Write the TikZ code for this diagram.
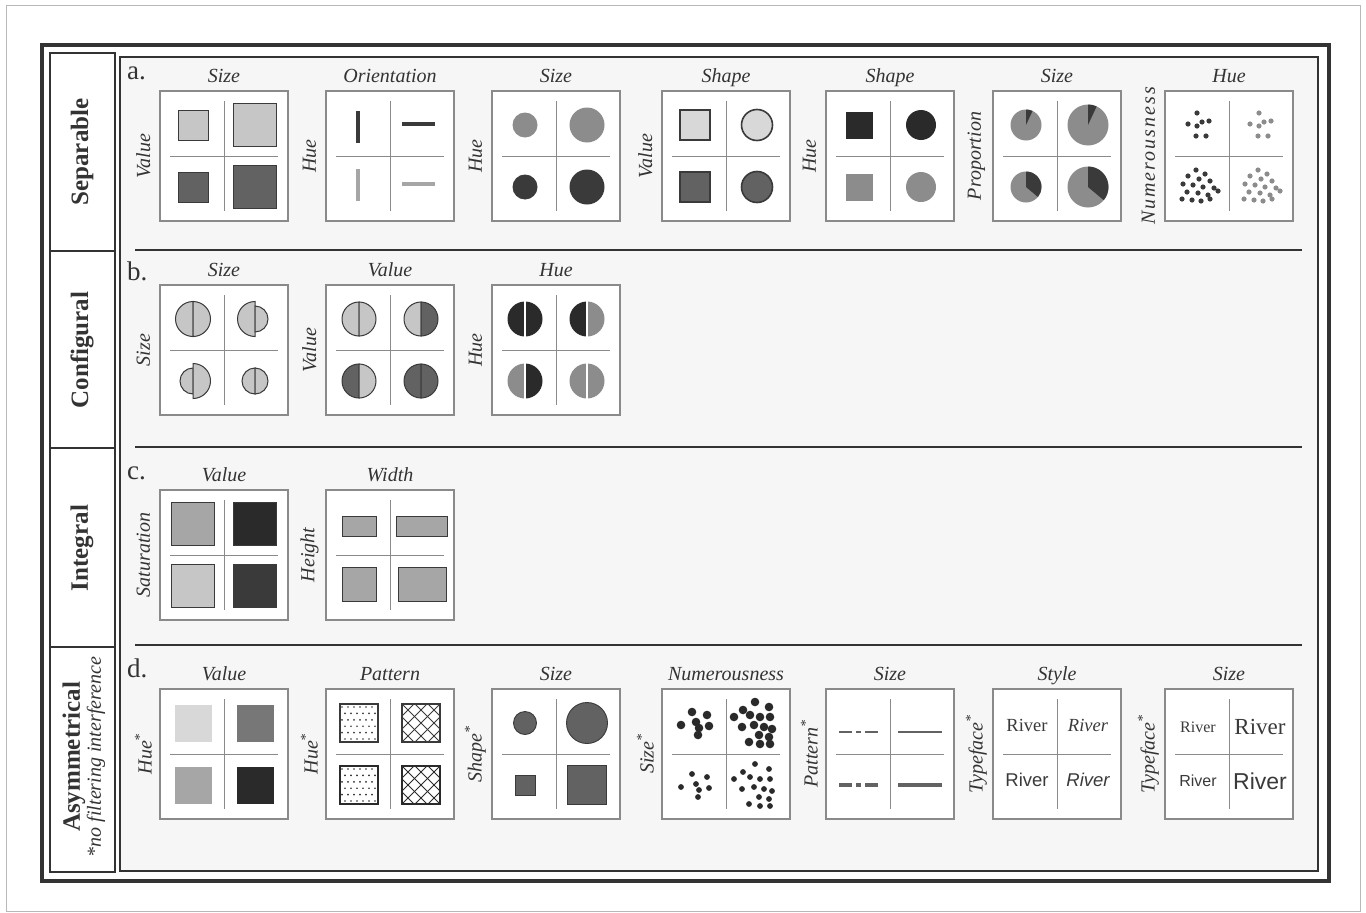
\documentclass[tikz,border=0pt]{standalone}
\usepackage{fontspec}
\setmainfont{Liberation Serif}
\newfontfamily\riverSans{Liberation Sans}
\usepackage{xcolor}
\usepackage{tikz}
\usetikzlibrary{positioning}
\definecolor{pageGray}{HTML}{B8B8B8}
\definecolor{frameGray}{HTML}{8A8A8A}
\definecolor{ruleDark}{HTML}{333333}
\definecolor{panelBg}{HTML}{F6F6F6}
\definecolor{grayPale}{HTML}{D8D8D8}
\definecolor{grayLight}{HTML}{C6C6C6}
\definecolor{graySoft}{HTML}{A6A6A6}
\definecolor{grayMid}{HTML}{8C8C8C}
\definecolor{grayDim}{HTML}{626262}
\definecolor{grayDeep}{HTML}{3A3A3A}
\definecolor{grayInk}{HTML}{2A2A2A}

\tikzset{
  glyphbox/.style={draw=frameGray,fill=white,line width=1.1pt,inner sep=0pt,
    minimum width=128pt,minimum height=130pt,
    path picture={
      \draw[frameGray,line width=0.9pt]
        ([yshift=-10pt]path picture bounding box.north) -- ([yshift=10pt]path picture bounding box.south)
        ([xshift=10pt]path picture bounding box.west) -- ([xshift=-10pt]path picture bounding box.east);
    }},
  ttl/.style={font=\fontsize{20}{22}\selectfont\itshape,text=ruleDark,anchor=base,inner sep=0pt},
  sidelab/.style={font=\fontsize{20}{22}\selectfont\itshape,text=ruleDark,rotate=90,anchor=center,inner sep=0pt},
  rowlab/.style={font=\fontsize{25}{28}\selectfont\bfseries,text=ruleDark,rotate=90,inner sep=0pt},
  panlab/.style={font=\fontsize{27}{30}\selectfont,text=ruleDark,anchor=base west,inner sep=0pt},
  river/.style={text=grayDeep,inner sep=0pt},
  divider/.style={draw=ruleDark,line width=1.6pt},
}

\begin{document}
\begin{tikzpicture}[x=1pt,y=-1pt]
  \useasboundingbox (0,0) rectangle (1366,913);
  % frames
  \draw[pageGray,line width=1pt] (6,5) rectangle (1360,911);
  \fill[panelBg] (120,57) rectangle (1318,871);
  \draw[ruleDark,line width=3.4pt] (42,45) rectangle (1329,881);
  \draw[ruleDark,line width=1.3pt] (50,53) rectangle (115,872);
  \draw[ruleDark,line width=1.3pt] (120,57) rectangle (1318,871);
  \foreach \y in {251,448,647}
    \draw[ruleDark,line width=1.3pt] (50,\y) -- (115,\y);
  \foreach \y in {250,447,645}
    \draw[divider] (135,\y) -- (1302,\y);

  % left column
  \node[rowlab] (rowSep) at (82,152) {Separable};
  \node[rowlab] (rowConf) at (82,350) {Configural};
  \node[rowlab] (rowInt) at (82,548) {Integral};
  \node[rowlab] (rowAsym) at (74,757) {Asymmetrical};
  \node[rotate=90,inner sep=0pt,text=ruleDark,font=\fontsize{20}{22}\selectfont\itshape] (rowAsymSub) at (96,757) {*no filtering interference};

  \node[panlab] (pa) at (127,79) {a.};
  \node[panlab] (pb) at (127,280) {b.};
  \node[panlab] (pc) at (127,479) {c.};
  \node[panlab] (pd) at (127,677) {d.};

  % row a: separable
  \foreach \n/\x/\hd/\sd in {1/224/Size/Value,2/390/Orientation/Hue,3/556/Size/Hue,
      4/726/Shape/Value,5/890/Shape/Hue,6/1057/Size/Proportion,
      7/1229/Hue/{\addfontfeature{LetterSpace=10}Numerousness}}{
    \node[glyphbox] (bxa\n) at (\x,156) {};
    \node[above=8pt of bxa\n,ttl] (hda\n) {\hd};
    \node[left=16pt of bxa\n,sidelab] (sda\n) {\sd};
  }
  % a1: size / value
  \begin{scope}[shift={(bxa1.center)}]
    \foreach \x/\y/\s/\col in {-31/-31/15/grayLight,31/-31/21.5/grayLight,-31/31/15/grayDim,31/31/21.5/grayDim}
      \filldraw[fill=\col,draw=grayDeep,line width=0.8pt] (\x-\s,\y-\s) rectangle (\x+\s,\y+\s);
  \end{scope}
  % a2: orientation / hue
  \begin{scope}[shift={(bxa2.center)},line width=3.4pt]
    \draw[grayDeep] (-32,-45) -- (-32,-13);
    \draw[grayDeep] (12,-32) -- (45,-32);
    \draw[graySoft] (-32,13) -- (-32,45);
    \draw[graySoft] (12,28) -- (45,28);
  \end{scope}
  % a3: size / hue
  \begin{scope}[shift={(bxa3.center)}]
    \foreach \x/\y/\s/\col in {-31/-31/12.5/grayMid,31/-31/17.5/grayMid,-31/31/12.5/grayDeep,31/31/17.5/grayDeep}
      \fill[\col] (\x,\y) circle[radius=\s];
  \end{scope}
  % a4: shape / value
  \begin{scope}[shift={(bxa4.center)},line width=1.6pt]
    \foreach \y/\col in {-31/grayPale,31/grayDim}{
      \filldraw[fill=\col,draw=grayDeep] (-46,\y-15) rectangle (-16,\y+15);
      \filldraw[fill=\col,draw=grayDeep] (31,\y) circle[radius=15.5];
    }
  \end{scope}
  % a5: shape / hue
  \begin{scope}[shift={(bxa5.center)}]
    \foreach \y/\col in {-31/grayInk,31/grayMid}{
      \fill[\col] (-44.5,\y-13.5) rectangle (-17.5,\y+13.5);
      \fill[\col] (31,\y) circle[radius=15];
    }
  \end{scope}
  % a6: size / proportion
  \begin{scope}[shift={(bxa6.center)}]
    \foreach \x/\y/\s/\w in {-31/-31/15.5/25,31/-31/20.5/25,-31/31/15.5/130,31/31/20.5/130}{
      \fill[grayMid] (\x,\y) circle[radius=\s];
      \fill[grayDeep] (\x,\y) -- ++(-90:\s) arc[start angle=-90,end angle=-90+\w,radius=\s] -- cycle;
    }
  \end{scope}
  % a7: hue / numerousness
  \begin{scope}[shift={(bxa7.center)}]
    \foreach \dx/\col in {-31/grayDeep,31/grayMid}{
      \foreach \x/\y in {-1/-12,-10/-1,-1/1,4/-3,11/-4,-2/11,8/11}
        \fill[\col] (\dx+\x,-31+\y) circle[radius=2.6];
      \foreach \x/\y in {-2/-17,7/-13,-10/-11,1/-8,12/-6,-15/-3,-5/-2,5/0,16/1,
          -11/5,0/6,10/8,-16/12,-6/13,3/14,12/12,20/4}
        \fill[\col] (\dx+\x,31+\y) circle[radius=2.6];
    }
  \end{scope}

  % row b: configural
  \foreach \n/\x/\hd/\sd in {1/224/Size/Size,2/390/Value/Value,3/556/Hue/Hue}{
    \node[glyphbox] (bxb\n) at (\x,350) {};
    \node[above=8pt of bxb\n,ttl] (hdb\n) {\hd};
    \node[left=16pt of bxb\n,sidelab] (sdb\n) {\sd};
  }
  % b1: size / size
  \begin{scope}[shift={(bxb1.center)},line width=1pt]
    \foreach \x/\y/\rl/\rr in {-31/-31/17.5/17.5,31/-31/17.5/13,-31/31/13/17.5,31/31/13/13}{
      \filldraw[fill=grayLight,draw=grayDeep] (\x,\y-\rl) arc[start angle=-90,end angle=-270,radius=\rl] -- cycle;
      \filldraw[fill=grayLight,draw=grayDeep] (\x,\y-\rr) arc[start angle=-90,end angle=90,radius=\rr] -- cycle;
    }
  \end{scope}
  % b2: value / value
  \begin{scope}[shift={(bxb2.center)},line width=1pt]
    \foreach \x/\y/\cl/\cr in {-31/-31/grayLight/grayLight,31/-31/grayLight/grayDim,
        -31/31/grayDim/grayLight,31/31/grayDim/grayDim}{
      \filldraw[fill=\cl,draw=grayDeep] (\x,\y-17) arc[start angle=-90,end angle=-270,radius=17] -- cycle;
      \filldraw[fill=\cr,draw=grayDeep] (\x,\y-17) arc[start angle=-90,end angle=90,radius=17] -- cycle;
    }
  \end{scope}
  % b3: hue / hue
  \begin{scope}[shift={(bxb3.center)}]
    \foreach \x/\y/\cl/\cr in {-31/-31/grayInk/grayInk,31/-31/grayInk/grayMid,
        -31/31/grayMid/grayInk,31/31/grayMid/grayMid}{
      \fill[\cl] (\x,\y-17.5) arc[start angle=-90,end angle=-270,radius=17.5] -- cycle;
      \fill[\cr] (\x,\y-17.5) arc[start angle=-90,end angle=90,radius=17.5] -- cycle;
      \draw[white,line width=2pt] (\x,\y-18) -- (\x,\y+18);
    }
  \end{scope}

  % row c: integral
  \foreach \n/\x/\hd/\sd in {1/224/Value/Saturation,2/390/Width/Height}{
    \node[glyphbox] (bxc\n) at (\x,555) {};
    \node[above=8pt of bxc\n,ttl] (hdc\n) {\hd};
    \node[left=16pt of bxc\n,sidelab] (sdc\n) {\sd};
  }
  % c1: value / saturation
  \begin{scope}[shift={(bxc1.center)}]
    \foreach \x/\y/\col in {-31/-31/graySoft,31/-31/grayInk,-31/31/grayLight,31/31/grayDeep}
      \filldraw[fill=\col,draw=grayDeep,line width=0.9pt] (\x-21.5,\y-21.5) rectangle (\x+21.5,\y+21.5);
  \end{scope}
  % c2: width / height
  \begin{scope}[shift={(bxc2.center)}]
    \foreach \x/\y/\w/\h in {-31/-29/17/10,32/-29/25.5/10,-31/29/17/17,32/29/24/17}
      \filldraw[fill=graySoft,draw=grayDeep,line width=0.9pt] (\x-\w,\y-\h) rectangle (\x+\w,\y+\h);
  \end{scope}

  % row d: asymmetrical
  \foreach \n/\x/\hd/\sd in {1/224/Value/Hue,2/390/Pattern/Hue,3/556/Size/Shape,
      4/726/Numerousness/Size,5/890/Size/Pattern,6/1057/Style/Typeface,7/1229/Size/Typeface}{
    \node[glyphbox] (bxd\n) at (\x,754) {};
    \node[above=8pt of bxd\n,ttl] (hdd\n) {\hd};
    \node[left=16pt of bxd\n,sidelab] (sdd\n) {\sd\textsuperscript{*}};
  }
  % d1: value / hue
  \begin{scope}[shift={(bxd1.center)}]
    \foreach \x/\y/\col in {-31/-31/grayPale,31/-31/grayMid!85!black,-31/31/graySoft,31/31/grayInk}
      \fill[\col] (\x-18.5,\y-18.5) rectangle (\x+18.5,\y+18.5);
  \end{scope}
  % d2: pattern / hue
  \begin{scope}[shift={(bxd2.center)}]
    \foreach \y/\col in {-31/grayDeep,31/grayInk}{
      \begin{scope}
        \clip (-50,\y-19) rectangle (-12,\y+19);
        \foreach \rw in {0,...,5}
          \foreach \kk in {0,...,6}
            \fill[\col] ({-48+\kk*6+mod(\rw,2)*3},{\y-16+\rw*6.4}) circle[radius=0.95];
      \end{scope}
      \begin{scope}
        \clip (12,\y-19) rectangle (50,\y+19);
        \foreach \kk in {-3,...,3}
          \draw[\col,line width=1pt] (31+\kk*13-25,\y-25) -- (31+\kk*13+25,\y+25)
                                     (31+\kk*13+25,\y-25) -- (31+\kk*13-25,\y+25);
      \end{scope}
      \draw[\col,line width=1.8pt] (-50,\y-19) rectangle (-12,\y+19) (12,\y-19) rectangle (50,\y+19);
    }
  \end{scope}
  % d3: size / shape
  \begin{scope}[shift={(bxd3.center)},line width=0.9pt]
    \filldraw[fill=grayDim,draw=grayDeep] (-31,-31) circle[radius=11.5];
    \filldraw[fill=grayDim,draw=grayDeep] (31,-31) circle[radius=20.5];
    \filldraw[fill=grayDim,draw=grayDeep] (-41,21) rectangle (-21,41);
    \filldraw[fill=grayDim,draw=grayDeep] (11.5,11.5) rectangle (50.5,50.5);
  \end{scope}
  % d4: numerousness / size
  \begin{scope}[shift={(bxd4.center)}]
    \foreach \y/\s in {-31/4.3,31/2.9}{
      \foreach \x/\yy in {-12/2,-1/-11,3/-1,14/-8,6/5,16/3,5/12}
        \fill[grayInk] (-33+\x,\y+\yy) circle[radius=\s];
      \foreach \x/\yy in {2/-21,16/-16,-10/-13,-19/-6,-3/-8,7/-6,17/-6,-11/4,
          1/2,11/4,19/6,6/12,16/14,-4/19,7/21,17/21}
        \fill[grayInk] (27+\x,\y+\yy) circle[radius=\s];
    }
  \end{scope}
  % d5: size / pattern
  \begin{scope}[shift={(bxd5.center)},grayDim]
    \draw[line width=1.8pt,dash pattern=on 13pt off 4pt on 5pt off 4pt] (-51,-22) -- (-12,-22);
    \draw[line width=1.8pt] (8,-22) -- (52,-22);
    \draw[line width=4.2pt,dash pattern=on 13pt off 4pt on 5pt off 4pt] (-51,31) -- (-12,31);
    \draw[line width=4.2pt] (8,31) -- (52,31);
  \end{scope}
  % d6: style / typeface
  \begin{scope}[shift={(bxd6.center)},font=\fontsize{18.5}{20}\selectfont]
    \node[river] (rvs1) at (-30,-29) {River};
    \node[river] (rvs2) at (31,-29) {\itshape River};
    \node[river] (rvs3) at (-30,26) {\riverSans River};
    \node[river] (rvs4) at (31,26) {\riverSans\itshape River};
  \end{scope}
  % d7: size / typeface
  \begin{scope}[shift={(bxd7.center)}]
    \node[river,font=\fontsize{16}{18}\selectfont] (rvz1) at (-31,-27) {River};
    \node[river,font=\fontsize{23}{25}\selectfont] (rvz2) at (31,-27) {River};
    \node[river,font=\fontsize{16}{18}\selectfont\riverSans] (rvz3) at (-31,27) {River};
    \node[river,font=\fontsize{23}{25}\selectfont\riverSans] (rvz4) at (31,27) {River};
  \end{scope}
\end{tikzpicture}
\end{document}
